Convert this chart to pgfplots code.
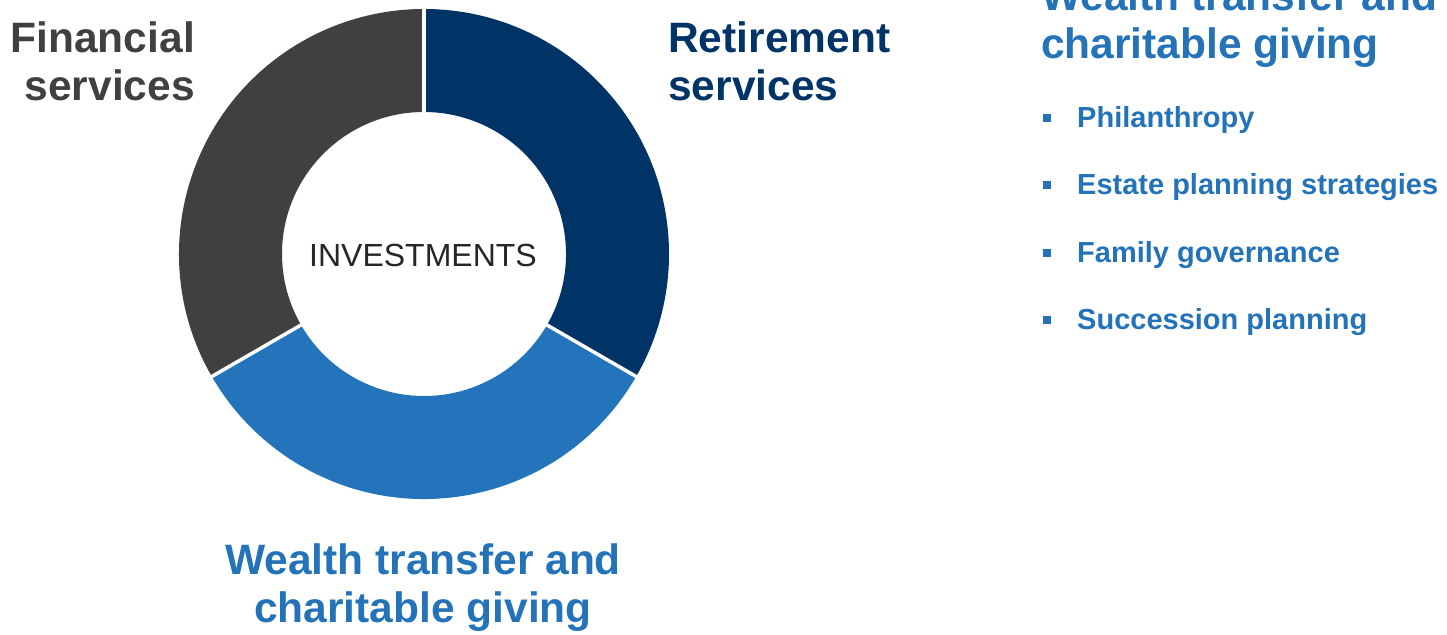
\documentclass[border=0pt]{standalone}
\usepackage{pgfplots}
\pgfplotsset{compat=1.18}
\usepackage{pgfplotstable}
\usepackage{fontspec}
\setmainfont{Liberation Sans}
\definecolor{navy}{HTML}{003366}
\definecolor{wblue}{HTML}{2474BB}
\definecolor{dgray}{HTML}{404040}
\definecolor{txtblue}{HTML}{2473B9}

% shares of the three donut segments, clockwise from the top
\pgfplotstableread{
segment share
Retirement 1
Wealth 1
Financial 1
}\donut
\pgfplotstablegetelem{0}{share}\of\donut\edef\sA{\pgfplotsretval}
\pgfplotstablegetelem{1}{share}\of\donut\edef\sB{\pgfplotsretval}
\pgfplotstablegetelem{2}{share}\of\donut\edef\sC{\pgfplotsretval}
\pgfmathsetmacro\tot{\sA+\sB+\sC}
\pgfmathsetmacro\aA{90}
\pgfmathsetmacro\aB{\aA-360*\sA/\tot}
\pgfmathsetmacro\aC{\aB-360*\sB/\tot}
\pgfmathsetmacro\aD{\aC-360*\sC/\tot}

\begin{document}
\begin{tikzpicture}
\path (0pt,0pt) rectangle (1447pt,634pt);
\clip (0pt,0pt) rectangle (1447pt,634pt);
\begin{scope}[overlay]
\begin{axis}[
    x=1pt, y=1pt,
    xmin=0, xmax=1447, ymin=0, ymax=634,
    scale only axis, hide axis, clip=false,
    at={(0pt,0pt)}, anchor=south west,
]
\addplot[draw=none, forget plot] coordinates {(0,0) (1447,634)};
% donut segments
\fill[navy] (axis cs:424,380) ++(\aA:245pt) arc[start angle=\aA, end angle=\aB, radius=245pt]
    -- ++(\aB:-103pt) arc[start angle=\aB, end angle=\aA, radius=142pt] -- cycle;
\fill[wblue] (axis cs:424,380) ++(\aB:245pt) arc[start angle=\aB, end angle=\aC, radius=245pt]
    -- ++(\aC:-103pt) arc[start angle=\aC, end angle=\aB, radius=142pt] -- cycle;
\fill[dgray] (axis cs:424,380) ++(\aC:245pt) arc[start angle=\aC, end angle=\aD, radius=245pt]
    -- ++(\aD:-103pt) arc[start angle=\aD, end angle=\aC, radius=142pt] -- cycle;
% white separators
\draw[white, line width=3.5pt] (axis cs:424,380) ++(\aA:138pt) -- ++(\aA:112pt);
\draw[white, line width=3.5pt] (axis cs:424,380) ++(\aB:138pt) -- ++(\aB:112pt);
\draw[white, line width=3.5pt] (axis cs:424,380) ++(\aC:138pt) -- ++(\aC:112pt);

\node[anchor=base, inner sep=0pt, text=black!85, font=\fontsize{32}{36}\selectfont]
    at (axis cs:423,367) {INVESTMENTS};

% segment labels
\begin{scope}[every node/.style={inner sep=0pt, font=\fontsize{42.5}{48}\selectfont\bfseries}]
\node[anchor=base east, text=dgray] at (axis cs:195,581) {Financial};
\node[anchor=base east, text=dgray] at (axis cs:195,533) {services};
\node[anchor=base west, text=navy] at (axis cs:668,581) {Retirement};
\node[anchor=base west, text=navy] at (axis cs:668,533) {services};
\node[anchor=base, text=txtblue] at (axis cs:423,59) {Wealth transfer and};
\node[anchor=base, text=txtblue] at (axis cs:423,12) {charitable giving};
\node[anchor=base west, text=txtblue] at (axis cs:1041,623) {Wealth transfer and};
\node[anchor=base west, text=txtblue] at (axis cs:1041,575) {charitable giving};
\end{scope}

% bullet list
\begin{scope}[every node/.style={inner sep=0pt, anchor=base west, text=txtblue,
    font=\fontsize{29}{33}\selectfont\bfseries}]
\node at (axis cs:1077,506) {Philanthropy};
\node at (axis cs:1077,439) {Estate planning strategies};
\node at (axis cs:1077,371) {Family governance};
\node at (axis cs:1077,304) {Succession planning};
\fill[txtblue] (axis cs:1043,512) rectangle (axis cs:1051,520);
\fill[txtblue] (axis cs:1043,445) rectangle (axis cs:1051,453);
\fill[txtblue] (axis cs:1043,377) rectangle (axis cs:1051,385);
\fill[txtblue] (axis cs:1043,310) rectangle (axis cs:1051,318);
\end{scope}
\end{axis}
\end{scope}
\end{tikzpicture}
\end{document}
